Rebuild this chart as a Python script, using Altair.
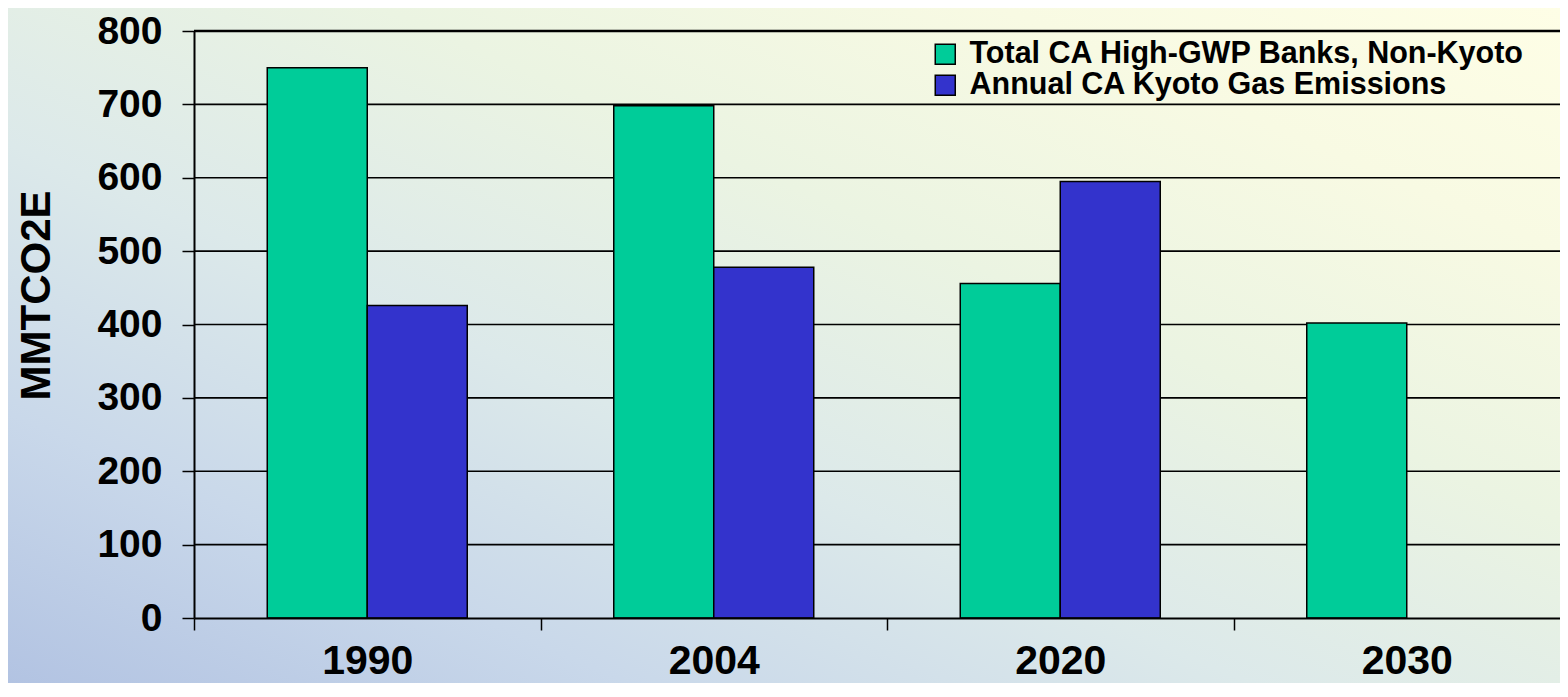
import altair as alt
import pandas as pd

years = ["1990", "2004", "2020", "2030"]
series = ["Total CA High-GWP Banks, Non-Kyoto", "Annual CA Kyoto Gas Emissions"]
banks = [750, 698, 456, 402]
kyoto = [426, 478, 595, None]
y_ticks = [0, 100, 200, 300, 400, 500, 600, 700, 800]

rows = []
for yr, b, k in zip(years, banks, kyoto):
    rows.append({"year": yr, "series": series[0], "value": b})
    if k is not None:
        rows.append({"year": yr, "series": series[1], "value": k})
df = pd.DataFrame(rows)
grid_df = pd.DataFrame({"value": y_ticks[1:]})

FONT = "Liberation Sans"
W, H = 1366, 587
PAD = {"left": 186, "top": 23, "right": 0, "bottom": 65}

gradient = alt.LinearGradient(
    gradient="linear",
    x1=0, y1=1, x2=1, y2=0,
    stops=[
        alt.GradientStop(color="#b2c3e2", offset=0),
        alt.GradientStop(color="#c9d8ea", offset=0.2),
        alt.GradientStop(color="#dce9ea", offset=0.4),
        alt.GradientStop(color="#ebf4e2", offset=0.62),
        alt.GradientStop(color="#f8fae3", offset=0.82),
        alt.GradientStop(color="#fefee6", offset=1),
    ],
)

bg = alt.Chart(pd.DataFrame({"a": [0]})).mark_rect(color=gradient).encode(
    x=alt.value(-PAD["left"]),
    x2=alt.value(W + PAD["right"]),
    y=alt.value(-PAD["top"]),
    y2=alt.value(H + PAD["bottom"]),
)

yscale = alt.Scale(domain=[0, 800])
yaxis = alt.Axis(
    values=y_ticks,
    title="MMTCO2E",
    grid=False,
    tickSize=12,
    tickColor="black",
    tickWidth=1.5,
    domainColor="black",
    domainWidth=2,
    labelFont=FONT,
    labelFontSize=39,
    labelFontWeight="bold",
    labelColor="black",
    labelPadding=20,
    titleFont=FONT,
    titleFontSize=42,
    titleFontWeight="bold",
    titleColor="black",
    titleX=-145,
    titleY=264,
    titleAngle=270,
    titleBaseline="alphabetic",
    titleAlign="center",
    zindex=1,
)

grid = alt.Chart(grid_df).mark_rule(color="black").encode(
    y=alt.Y("value:Q", scale=yscale, axis=yaxis),
    strokeWidth=alt.condition(alt.datum.value == 800, alt.value(2.5), alt.value(1.6)),
)

bars = alt.Chart(df).mark_bar(stroke="black", strokeWidth=1.5).encode(
    x=alt.X(
        "year:N",
        sort=years,
        scale=alt.Scale(range=[0, 1386], paddingInner=0, paddingOuter=0),
        axis=alt.Axis(
            title=None,
            labelAngle=0,
            tickBand="extent",
            tickSize=12,
            tickColor="black",
            tickWidth=1.5,
            domainColor="black",
            domainWidth=2,
            labelFont=FONT,
            labelFontSize=41,
            labelFontWeight="bold",
            labelColor="black",
            labelPadding=11,
            grid=False,
            zindex=1,
        ),
    ),
    xOffset=alt.XOffset(
        "series:N", sort=series,
        scale=alt.Scale(paddingInner=0, paddingOuter=0.7325),
    ),
    y=alt.Y("value:Q", scale=yscale, axis=yaxis),
    color=alt.Color(
        "series:N",
        sort=series,
        scale=alt.Scale(domain=series, range=["#00cc99", "#3333cc"]),
        legend=alt.Legend(
            title=None,
            orient="none",
            legendX=736,
            legendY=8,
            symbolType="square",
            symbolSize=400,
            symbolStrokeColor="black",
            symbolStrokeWidth=1.5,
            symbolOpacity=1,
            labelFont=FONT,
            labelFontSize=30.5,
            labelFontWeight="bold",
            labelColor="black",
            labelLimit=0,
            labelOffset=9,
            rowPadding=0,
            padding=0,
        ),
    ),
)

chart = alt.layer(bg, grid, bars).properties(
    width=W,
    height=H,
    padding=PAD,
    autosize=alt.AutoSizeParams(type="none"),
    background="#e6efe8",
).configure_view(stroke=None)

chart.save("out.html", embed_options={"renderer": "svg", "actions": False})
